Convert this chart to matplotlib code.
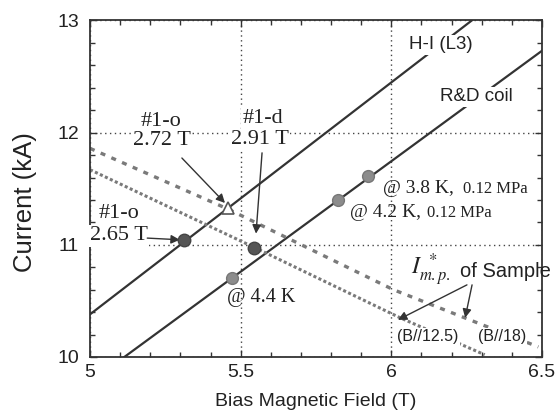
import matplotlib
matplotlib.use('Agg')
import matplotlib.pyplot as plt
from matplotlib.ticker import MultipleLocator

# ---- data ----
hi_x = [5.0, 6.267]            # H-I (L3) load line
hi_y = [10.38, 13.0]
rd_x = [5.114, 6.5]            # R&D coil load line
rd_y = [10.0, 12.73]
b18_x = [5.0, 5.457, 6.007, 6.488]     # Imp* of sample, B//18
b18_y = [11.86, 11.32, 10.60, 10.09]
b125_x = [5.0, 5.543, 6.029, 6.31]     # Imp* of sample, B//12.5
b125_y = [11.67, 10.98, 10.35, 10.02]

dark_x = [5.312, 5.543]        # #1-o 2.65 T, #1-d 2.91 T
dark_y = [11.04, 10.975]
open_x = [5.457]               # #1-o 2.72 T
open_y = [11.326]
temp_x = [5.472, 5.822, 5.924] # @4.4 K, @4.2 K, @3.8 K
temp_y = [10.70, 11.40, 11.61]

xticks = [5, 5.5, 6, 6.5]
xticklabels = ['5', '5.5', '6', '6.5']
yticks = [10, 11, 12, 13]
yticklabels = ['10', '11', '12', '13']

SANS = 'Liberation Sans'
SERIF = 'Liberation Serif'
plt.rcParams['font.family'] = SANS
plt.rcParams['mathtext.fontset'] = 'stix'

fig = plt.figure(figsize=(5.6, 4.13), dpi=100)
ax = fig.add_axes([0.1607, 0.1356, 0.8071, 0.8148])
ax.set_xlim(5, 6.5)
ax.set_ylim(10, 13)

LC = '#333333'
SC = '#7a7a7a'
TC = '#222222'
white = dict(facecolor='white', edgecolor='none', pad=1.0)

ax.set_axisbelow(True)
ax.grid(True, which='major', linestyle=(0, (1, 2.5)), color='#444444', lw=1.0)

ax.plot(hi_x, hi_y, color=LC, lw=1.6, zorder=2)
ax.plot(rd_x, rd_y, color=LC, lw=1.6, zorder=2)
ax.plot(b18_x, b18_y, color=SC, lw=2.4, linestyle=(0, (1.5, 2.0)), zorder=2)
ax.plot(b125_x, b125_y, color=SC, lw=2.2, linestyle=(0, (1.0, 0.8)), zorder=2)

ax.plot(dark_x, dark_y, 'o', color='#555555', mec='#444444', ms=9, zorder=5, ls='none')
ax.plot(open_x, open_y, '^', color='white', mec='#555555', mew=1.2, ms=9, zorder=5, ls='none')
ax.plot(temp_x, temp_y, 'o', color='#8c8c8c', mec='#777777', ms=8.5, zorder=5, ls='none')

# ---- labels ----
ax.text(6.165, 12.782, 'H-I (L3)', fontsize=13.5, family=SANS, ha='center', va='center',
        color=TC, bbox=white, zorder=3)
ax.text(6.281, 12.318, 'R&D coil', fontsize=13.5, family=SANS, ha='center', va='center',
        color=TC, bbox=white, zorder=3)

ax.text(5.236, 12.095, '#1-o', fontsize=16, family=SERIF, ha='center', va='center',
        color=TC, bbox=white, zorder=3)
ax.text(5.239, 11.926, '2.72 T', fontsize=16, family=SERIF, ha='center', va='center',
        color=TC, bbox=white, zorder=3)
ax.text(5.574, 12.13, '#1-d', fontsize=16, family=SERIF, ha='center', va='center',
        color=TC, bbox=white, zorder=3)
ax.text(5.564, 11.935, '2.91 T', fontsize=16, family=SERIF, ha='center', va='center',
        color=TC, bbox=white, zorder=3)
ax.text(5.096, 11.28, '#1-o', fontsize=16, family=SERIF, ha='center', va='center',
        color=TC, zorder=3)
ax.text(5.095, 11.08, '2.65 T', fontsize=16, family=SERIF, ha='center', va='center',
        color=TC, bbox=white, zorder=3)

ax.text(5.455, 10.527, '@ 4.4 K', fontsize=14.5, family=SERIF, ha='left', va='center',
        color=TC, zorder=3)
ax.text(5.863, 11.251, '@ 4.2 K,', fontsize=14, family=SERIF, ha='left', va='baseline',
        color=TC, zorder=3)
ax.text(6.12, 11.251, '0.12 MPa', fontsize=12, family=SERIF, ha='left', va='baseline',
        color=TC, zorder=3)
ax.text(5.973, 11.46, '@ 3.8 K,', fontsize=14, family=SERIF, ha='left', va='baseline',
        color=TC, zorder=3)
ax.text(6.238, 11.46, '0.12 MPa', fontsize=12, family=SERIF, ha='left', va='baseline',
        color=TC, zorder=3)

ax.text(6.065, 10.732, r'$I_{m.p.}^{\ *}$', fontsize=17, ha='left', va='baseline',
        color=TC, zorder=3)
ax.text(6.228, 10.717, 'of Sample', fontsize=14.5, family=SANS, ha='left', va='baseline',
        color=TC, zorder=6, clip_on=False)

ax.text(6.12, 10.18, '(B//12.5)', fontsize=11.5, family=SANS, ha='center', va='center',
        color=TC, bbox=white, zorder=3)
ax.text(6.367, 10.18, '(B//18)', fontsize=11.5, family=SANS, ha='center', va='center',
        color=TC, bbox=white, zorder=3)

# ---- arrows ----
ap = dict(arrowstyle='-|>', mutation_scale=13, lw=1.0, color='#333333',
          shrinkA=0, shrinkB=0)
ax.annotate('', xy=(5.448, 11.373), xytext=(5.305, 11.774), arrowprops=ap, zorder=4)
ax.annotate('', xy=(5.551, 11.10), xytext=(5.571, 11.82), arrowprops=ap, zorder=4)
ax.annotate('', xy=(5.298, 11.045), xytext=(5.19, 11.06), arrowprops=ap, zorder=4)
ax.annotate('', xy=(6.022, 10.331), xytext=(6.251, 10.643), arrowprops=ap, zorder=4)
ax.annotate('', xy=(6.245, 10.349), xytext=(6.268, 10.643), arrowprops=ap, zorder=4)

# ---- axes styling ----
ax.set_xticks(xticks)
ax.set_xticklabels(xticklabels)
ax.set_yticks(yticks)
ax.set_yticklabels(yticklabels)
ax.xaxis.set_minor_locator(MultipleLocator(0.1))
ax.yaxis.set_minor_locator(MultipleLocator(0.2))
ax.tick_params(which='both', direction='in', top=True, right=True, color='#333333', width=1.0)
ax.tick_params(which='major', length=5)
ax.tick_params(which='minor', length=3.5)
ax.tick_params(axis='x', which='major', pad=5, labelsize=14, labelcolor=TC)
ax.tick_params(axis='y', which='major', pad=8, labelsize=14, labelcolor=TC)
for s in ax.spines.values():
    s.set_linewidth(1.3)
    s.set_color('#333333')

ax.set_xlabel('Bias Magnetic Field (T)', fontsize=14, family=SANS, color=TC)
ax.xaxis.set_label_coords(0.5, -0.107)
ax.set_ylabel('Current (kA)', fontsize=18.5, family=SANS, color=TC)
ax.yaxis.set_label_coords(-0.117, 0.46)

fig.savefig('out.png', dpi=100)
